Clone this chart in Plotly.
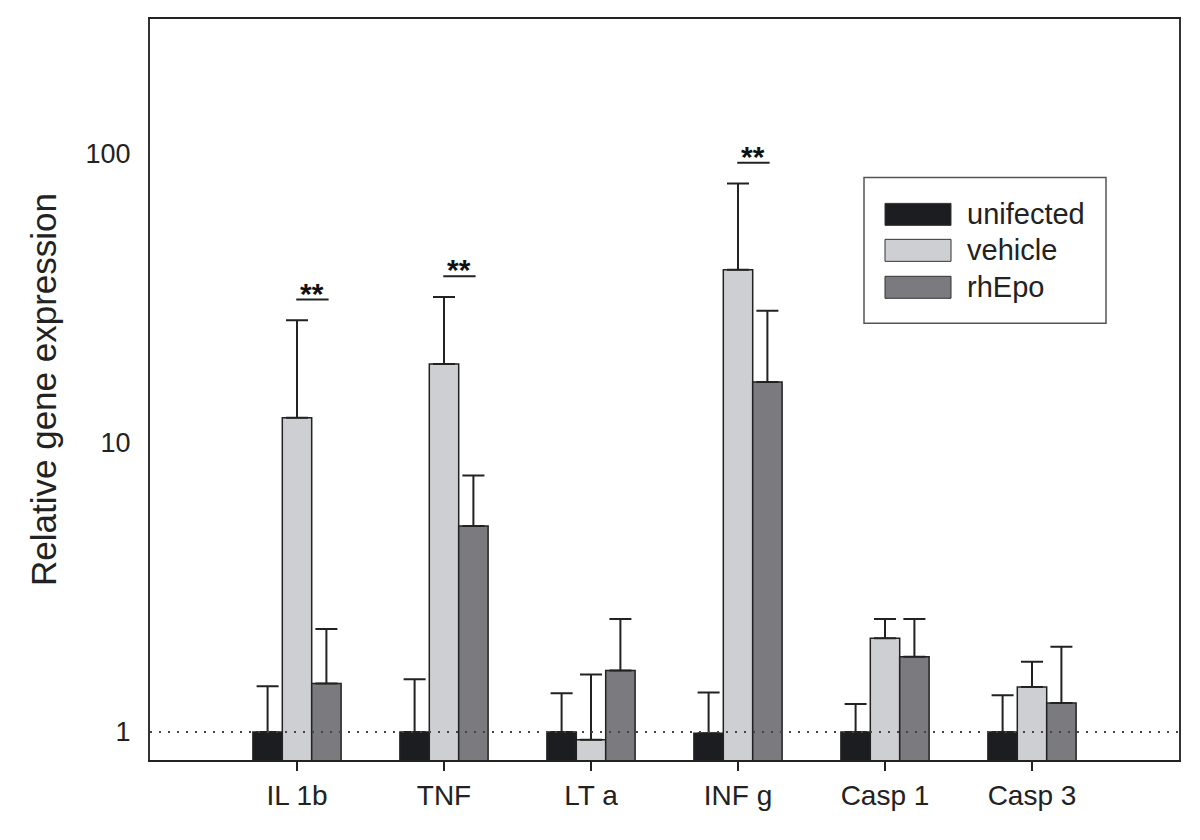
import math
import plotly.graph_objects as go

categories = ["IL 1b", "TNF", "LT a", "INF g", "Casp 1", "Casp 3"]
series_names = ["unifected", "vehicle", "rhEpo"]

unifected = [1.0, 1.0, 1.0, 0.99, 1.0, 1.0]
unifected_err = [0.44, 0.52, 0.36, 0.38, 0.25, 0.34]
vehicle = [12.2, 18.7, 0.94, 39.6, 2.11, 1.43]
vehicle_err = [14.3, 13.2, 0.64, 39.1, 0.35, 0.32]
rhepo = [1.47, 5.15, 1.63, 16.2, 1.82, 1.26]
rhepo_err = [0.80, 2.55, 0.83, 12.4, 0.64, 0.71]

significant = ["IL 1b", "TNF", "INF g"]
sig_label = "**"

colors = ["#1c1d20", "#cdcfd3", "#7b7b7f"]
FONT = "Liberation Sans, Arial, sans-serif"
INK = "#222222"

x_pos = list(range(len(categories)))
fig = go.Figure()

for name, vals, errs, col in zip(series_names,
                                 [unifected, vehicle, rhepo],
                                 [unifected_err, vehicle_err, rhepo_err],
                                 colors):
    fig.add_trace(go.Bar(
        x=x_pos, y=vals, name=name,
        marker=dict(color=col, line=dict(color=INK, width=1.5)),
        error_y=dict(type="data", array=errs, symmetric=False,
                     arrayminus=[0] * len(errs),
                     color=INK, thickness=2, width=11),
        showlegend=False,
    ))

# dotted reference line at 1
fig.add_trace(go.Scatter(
    x=[-1, len(categories)], y=[1, 1], mode="lines",
    line=dict(color="#444444", width=2, dash="2px,7px"),
    showlegend=False, hoverinfo="skip",
))

# significance marks between vehicle and rhEpo
for cat in significant:
    i = categories.index(cat)
    top = (vehicle[i] + vehicle_err[i]) * 1.18
    fig.add_trace(go.Scatter(
        x=[i - 0.005, i + 0.215], y=[top, top], mode="lines",
        line=dict(color=INK, width=2), showlegend=False, hoverinfo="skip",
    ))
    fig.add_annotation(
        x=i + 0.105, y=math.log10(top), xref="x", yref="y",
        text=sig_label, showarrow=False, yanchor="bottom", yshift=-12,
        font=dict(family=FONT, size=30, color="#111111", weight="bold"),
    )

# page offset (body margin) of 8 px is accounted for in the margins below
OFF = 8
# custom legend (wide swatches like the reference); pixel positions in page coords
px0, px1, py0, py1 = 150, 1179, 18.5, 760
def xp(px):
    return (px - px0) / (px1 - px0)
def yp(py):
    return (py1 - py) / (py1 - py0)

fig.add_shape(type="rect", xref="paper", yref="paper",
              x0=xp(864), x1=xp(1106), y0=yp(323), y1=yp(177),
              line=dict(color="#555555", width=1.5), fillcolor="white", layer="above")
row_centers = [214, 250, 287]
for name, col, yc in zip(series_names, colors, row_centers):
    fig.add_shape(type="rect", xref="paper", yref="paper",
                  x0=xp(885), x1=xp(951), y0=yp(yc + 11), y1=yp(yc - 11),
                  line=dict(color="#333333", width=1), fillcolor=col, layer="above")
    fig.add_annotation(x=xp(965), y=yp(yc), xref="paper", yref="paper",
                       text=name, showarrow=False, xanchor="left", yanchor="middle",
                       font=dict(family=FONT, size=29, color=INK))

fig.update_layout(
    width=1200, height=840,
    margin=dict(l=px0 - OFF, r=1200 + OFF - px1, t=py0 - OFF, b=840 + OFF - py1),
    paper_bgcolor="white", plot_bgcolor="white",
    barmode="group", bargap=0.4, bargroupgap=0,
    font=dict(family=FONT, color=INK),
)
fig.update_xaxes(
    range=[-1, 6], tickvals=x_pos, ticktext=categories,
    showline=True, linecolor="#222222", linewidth=2, mirror=True,
    ticks="outside", ticklen=9, tickwidth=2, tickcolor="#222222",
    tickfont=dict(family=FONT, size=28, color=INK),
    showgrid=False, zeroline=False, automargin=False,
)
fig.update_yaxes(
    type="log", range=[-0.097, 2.465],
    tickvals=[1, 10, 100], ticktext=["1", "10", "100"],
    showline=True, linecolor="#333333", linewidth=2, mirror=True,
    ticks="", ticklabelstandoff=12,
    tickfont=dict(family=FONT, size=27, color=INK),
    title=dict(text="Relative gene expression", standoff=18,
               font=dict(family=FONT, size=35, color=INK)),
    showgrid=False, zeroline=False, automargin=False,
)

fig.write_html("out.html")
